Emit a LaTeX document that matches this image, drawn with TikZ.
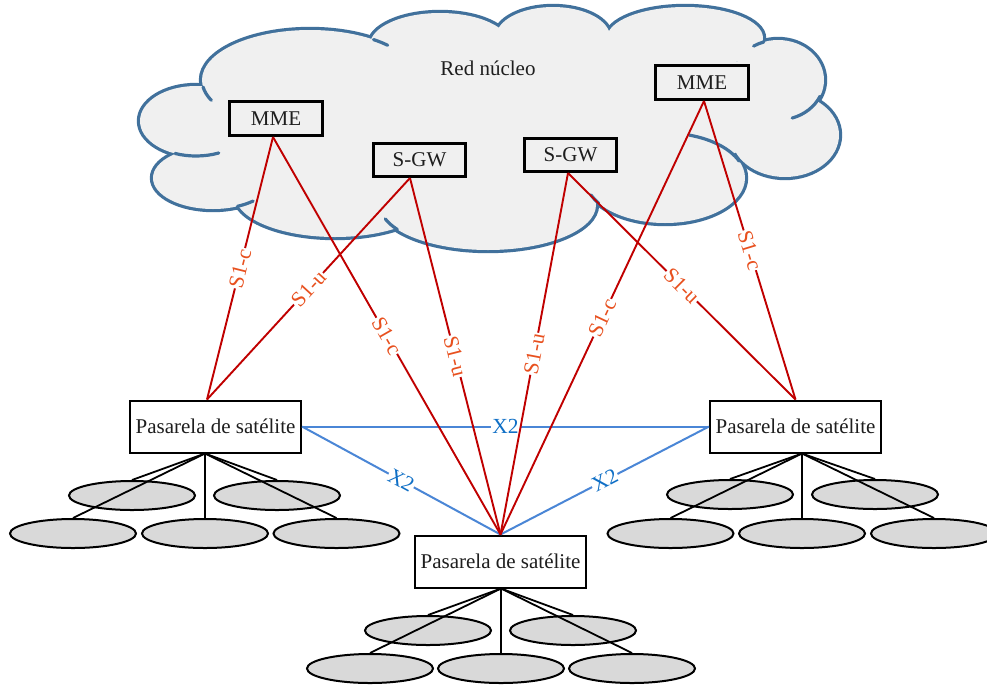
\documentclass[tikz,border=0pt]{standalone}
\usepackage{fontspec}
\setmainfont{Liberation Serif}
\usetikzlibrary{calc,shapes.geometric}
\definecolor{cloudline}{HTML}{41719C}
\definecolor{cloudfill}{HTML}{F0F0F0}
\definecolor{sline}{HTML}{C00000}
\definecolor{slabel}{HTML}{E8501E}
\definecolor{xline}{HTML}{4A86D6}
\definecolor{xlabel}{HTML}{0F6FC6}
\definecolor{uefill}{HTML}{D9D9D9}
\definecolor{txt}{HTML}{1E1E1E}
\tikzset{
  bigfont/.style={font=\fontsize{21}{25}\selectfont},
  labfont/.style={font=\fontsize{21.5}{25}\selectfont},
  corebox/.style={draw=black, line width=3pt, fill=cloudfill, inner sep=0pt, minimum width=93pt, minimum height=34pt, text=txt, bigfont},
  gwbox/.style={draw=black, line width=2pt, fill=white, inner sep=0pt, minimum width=171pt, minimum height=52pt, text=txt, bigfont},
  ue/.style={ellipse, draw=black, line width=2pt, fill=uefill, inner sep=0pt, minimum width=126pt, minimum height=29pt},
  fan/.style={draw=black, line width=1.8pt},
  s1/.style={draw=sline, line width=1.9pt},
  s1lab/.style={sloped, pos=0.5, fill=white, inner sep=1pt, text=slabel, labfont},
  x2/.style={draw=xline, line width=2pt},
  x2lab/.style={sloped, pos=0.5, fill=white, inner sep=1pt, text=xlabel, labfont},
  lobe/.style={draw=cloudline, line width=6.4pt},
  tail/.style={draw=cloudline, line width=3.2pt, line cap=round},
}
\begin{document}
\begin{tikzpicture}[x=1pt,y=-1pt]
\useasboundingbox (0,0) rectangle (987,686);
\clip (0,0) rectangle (987,686);
\fill[white] (0,0) rectangle (987,686);
% ---------------- cloud ----------------
\def\lobes{196/121/56/35, 213/178/60/31, 335/195/100/42, 488/205/108/45, 665/178/80/45, 785/135/54/42, 778/80/46/40, 685/38/78/31, 553/37/57/30, 440/45/70/32, 310/80/108/50}
\foreach \cx/\cy/\rx/\ry in \lobes { \draw[lobe] (\cx,\cy) ellipse [x radius=\rx, y radius=\ry]; }
\foreach \cx/\cy/\rx/\ry in \lobes { \fill[cloudfill] (\cx,\cy) ellipse [x radius=\rx, y radius=\ry]; }
\fill[cloudfill] (213,178) -- (335,195) -- (488,205) -- (665,178) -- (785,135) -- (778,80) -- (685,38) -- (553,37) -- (440,45) -- (310,80) -- (196,121) -- cycle;
\foreach \cx/\cy/\rx/\ry/\a/\b in {310/80/108/50/172/156, 196/121/56/35/112/66, 213/178/60/31/66/48, 488/205/108/45/147/162, 665/178/80/45/146/158, 665/178/80/45/-22/-72, 778/80/46/40/24/72, 778/80/46/40/252/238, 310/80/108/50/-54/-44}
 { \draw[tail] ($(\cx,\cy)+({\rx*cos(\a)},{\ry*sin(\a)})$) arc[start angle=\a, end angle=\b, x radius=\rx, y radius=\ry]; }
\node[bigfont, text=txt] (core) at (488,68) {Red núcleo};
\node[corebox] (mmeL) at (276,118.5) {MME};
\node[corebox, minimum width=92pt, minimum height=33pt] (sgwL) at (419.5,160) {S-GW};
\node[corebox, minimum width=92pt, minimum height=33pt] (sgwR) at (570.5,155) {S-GW};
\node[corebox] (mmeR) at (702,82.5) {MME};
% ---------------- user ellipses ----------------
\node[ue] (uLa) at (132,495.5) {};
\node[ue] (uLb) at (277,495.5) {};
\node[ue] (uLc) at (73,533.5) {};
\node[ue] (uLd) at (205,533.5) {};
\node[ue] (uLe) at (336.5,533.5) {};
\node[ue] (uRa) at (730,494.5) {};
\node[ue] (uRb) at (875,494.5) {};
\node[ue] (uRc) at (670.5,533.5) {};
\node[ue] (uRd) at (802,533.5) {};
\node[ue] (uRe) at (934,533.5) {};
\node[ue] (uBa) at (428,630.5) {};
\node[ue] (uBb) at (573,630.5) {};
\node[ue] (uBc) at (370,668.5) {};
\node[ue] (uBd) at (501,668.5) {};
\node[ue] (uBe) at (632,668.5) {};
% ---------------- gateways ----------------
\node[gwbox] (gwL) at (215.5,426.5) {Pasarela de satélite};
\node[gwbox] (gwR) at (795.5,426.5) {Pasarela de satélite};
\node[gwbox] (gwB) at (500.5,561.5) {Pasarela de satélite};
\coordinate (fanL) at ($(gwL.south)+(-10.5,0)$);
\coordinate (fanR) at ($(gwR.south)+(6.5,0)$);
\coordinate (fanB) at ($(gwB.south)+(0.5,0)$);
\foreach \u in {uLa,uLb,uLc,uLd,uLe} { \draw[fan] (fanL) -- (\u.north); }
\foreach \u in {uRa,uRb,uRc,uRd,uRe} { \draw[fan] (fanR) -- (\u.north); }
\foreach \u in {uBa,uBb,uBc,uBd,uBe} { \draw[fan] (fanB) -- (\u.north); }
% ---------------- X2 ----------------
\draw[x2] (gwL.east) -- node[x2lab]{X2} (gwR.west);
\draw[x2] (gwL.east) -- node[x2lab]{X2} (gwB.north);
\draw[x2] (gwB.north) -- node[x2lab]{X2} (gwR.west);
% ---------------- S1 ----------------
\coordinate (mmeLb) at ($(mmeL.south)+(-3,0)$);
\coordinate (sgwLb) at ($(sgwL.south)+(-9.5,0)$);
\coordinate (sgwRb) at ($(sgwR.south)+(-2.5,0)$);
\coordinate (mmeRb) at ($(mmeR.south)+(2,0)$);
\coordinate (gwLt) at ($(gwL.north)+(-8.5,0)$);
\draw[s1] (gwLt) -- node[s1lab]{S1-c} (mmeLb);
\draw[s1] (gwLt) -- node[s1lab]{S1-u} (sgwLb);
\draw[s1] (mmeLb) -- node[s1lab]{S1-c} (gwB.north);
\draw[s1] (sgwLb) -- node[s1lab]{S1-u} (gwB.north);
\draw[s1] (sgwRb) -- node[s1lab]{S1-u} (gwB.north);
\draw[s1] (mmeRb) -- node[s1lab]{S1-c} (gwB.north);
\draw[s1] (sgwRb) -- node[s1lab]{S1-u} (gwR.north);
\draw[s1] (mmeRb) -- node[s1lab]{S1-c} (gwR.north);
\end{tikzpicture}
\end{document}
